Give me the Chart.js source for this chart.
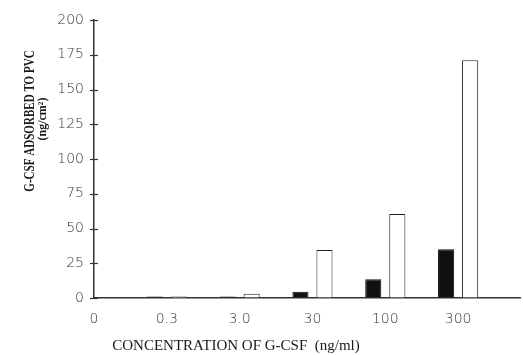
<!DOCTYPE html>
<html>
<head>
<meta charset="utf-8">
<script src="https://cdn.jsdelivr.net/npm/chart.js@4"></script>
<style>
  html, body { margin: 0; padding: 0; background: #fff; }
  #wrap { width: 523px; height: 355px; }
</style>
</head>
<body>
<div id="wrap"><canvas id="chart"></canvas></div>
<script>
// Data
const concLabels = ['0', '0.3', '3.0', '30', '100', '300'];
const filledValues = [0, 1, 1, 4.5, 13.5, 35];
const openValues = [0, 1, 3, 34.5, 60.5, 171];
const yTicks = [0, 25, 50, 75, 100, 125, 150, 175, 200];
const yTitle = 'G-CSF ADSORBED TO PVC';
const yUnit = '(ng/cm\u00B2)';
const xTitle = 'CONCENTRATION OF G-CSF  (ng/ml)';

const ink = '#1a1a1a';
const tickFont = { family: '"DejaVu Sans"', size: 14, weight: 200 };

// titles drawn by hand so the two-line y title can use two sizes,
// and y tick marks that cross the axis line
const axisExtras = {
    id: 'axisExtras',
    afterDraw(chart) {
        const ctx = chart.ctx;
        const y = chart.scales.y;
        ctx.save();
        ctx.strokeStyle = '#333';
        ctx.lineWidth = 1.2;
        y.ticks.forEach(t => {
            const py = Math.round(y.getPixelForValue(t.value)) + 0.5;
            ctx.beginPath();
            ctx.moveTo(y.right - 4, py);
            ctx.lineTo(y.right + 4, py);
            ctx.stroke();
        });

        ctx.fillStyle = ink;
        ctx.textAlign = 'center';
        ctx.textBaseline = 'middle';
        ctx.save();
        ctx.translate(30, 121);
        ctx.rotate(-Math.PI / 2);
        ctx.save();
        ctx.scale(0.79, 1);
        ctx.font = 'bold 14px "Liberation Serif"';
        ctx.fillText(yTitle, 0, 0);
        ctx.restore();
        ctx.font = 'bold 12px "Liberation Serif"';
        ctx.fillText(yUnit, 2, 13);
        ctx.restore();
        ctx.font = '15px "Liberation Serif"';
        ctx.fillText(xTitle, 236, 346);
        ctx.restore();
    }
};

const ctx = document.getElementById('chart').getContext('2d');
new Chart(ctx, {
    type: 'bar',
    data: {
        datasets: [{
            label: 'filled',
            data: filledValues.map((v, i) => ({ x: i, y: v })),
            backgroundColor: '#111',
            borderColor: '#111',
            borderWidth: 1
        }, {
            label: 'open',
            data: openValues.map((v, i) => ({ x: i, y: v })),
            backgroundColor: '#fff',
            borderColor: '#222',
            borderWidth: 1
        }]
    },
    options: {
        responsive: true,
        maintainAspectRatio: false,
        animation: false,
        categoryPercentage: 0.66,
        barPercentage: 0.67,
        layout: { padding: { top: 20, right: 3, left: 0, bottom: 0 } },
        plugins: {
            legend: { display: false },
            tooltip: { enabled: false }
        },
        scales: {
            x: {
                type: 'linear',
                min: 0,
                max: 5.85,
                offset: false,
                grid: { display: false },
                border: { color: '#333', width: 1.5 },
                ticks: {
                    stepSize: 1,
                    includeBounds: false,
                    autoSkip: false,
                    maxRotation: 0,
                    padding: 5,
                    color: '#333',
                    font: tickFont,
                    callback: v => concLabels[v] !== undefined ? concLabels[v] : ''
                },
                afterFit: scale => { scale.height = 57; }
            },
            y: {
                min: 0,
                max: 200,
                afterBuildTicks: scale => { scale.ticks = yTicks.map(v => ({ value: v })); },
                grid: {
                    drawOnChartArea: false,
                    drawTicks: false
                },
                border: { color: '#333', width: 1.5 },
                ticks: {
                    padding: 10,
                    color: '#333',
                    font: tickFont
                },
                afterFit: scale => { scale.width = 94; }
            }
        }
    },
    plugins: [axisExtras]
});
</script>
</body>
</html>
